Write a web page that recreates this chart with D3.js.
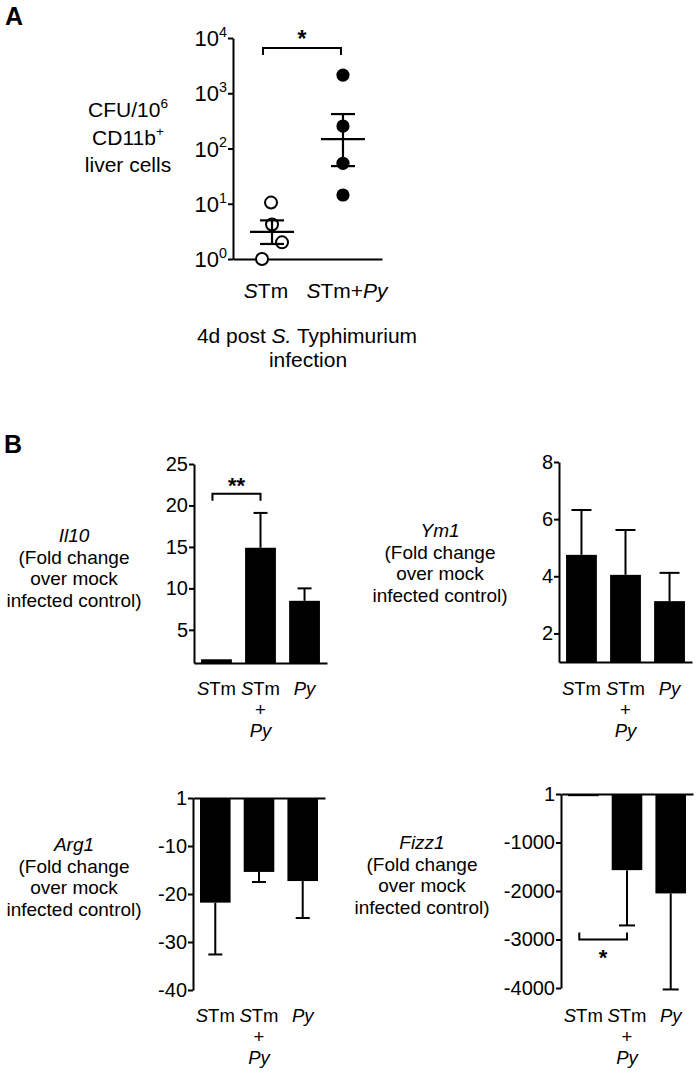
<!DOCTYPE html>
<html><head><meta charset="utf-8">
<script src="https://cdn.jsdelivr.net/npm/d3@7"></script>
<style>
body{margin:0;background:#fff}
svg{display:block}
text{font-family:"Liberation Sans",Arial,Helvetica,sans-serif;fill:#000}
</style>
</head><body>
<svg id="c" width="698" height="1077"></svg>
<script>
// ---------------- DATA ----------------
// Panel A: CFU per 10^6 CD11b+ liver cells (log scale)
const groupsA = ["STm", "STm+Py"];
const cfuSTm = [10.5, 4.2, 2.0, 1.0];
const cfuSTmPy = [2130, 255, 54, 14.4];
const meanA = [3.1, 148];
const semLowA = [1.87, 48];
const semHighA = [5.0, 420];
const logTicksA = [1, 10, 100, 1000, 10000];
const logTickExpA = ["0", "1", "2", "3", "4"];

// Panel B: fold change over mock infected control
const categoriesB = ["STm", "STm+Py", "Py"];
const il10Mean = [1.45, 14.9, 8.5];
const il10Err = [1.45, 19.1, 10.0];
const il10Ticks = [5, 10, 15, 20, 25];
const il10TickLabels = ["5", "10", "15", "20", "25"];

const ym1Mean = [4.75, 4.05, 3.13];
const ym1Err = [6.32, 5.62, 4.12];
const ym1Ticks = [2, 4, 6, 8];
const ym1TickLabels = ["2", "4", "6", "8"];

const arg1Mean = [-21.8, -15.4, -17.3];
const arg1Err = [-32.6, -17.5, -25.0];
const arg1Ticks = [0, -10, -20, -30, -40];
const arg1TickLabels = ["1", "-10", "-20", "-30", "-40"];

const fizz1Mean = [-45, -1570, -2050];
const fizz1Err = [-45, -2710, -4030];
const fizz1Ticks = [0, -1000, -2000, -3000, -4000];
const fizz1TickLabels = ["1", "-1000", "-2000", "-3000", "-4000"];

// ---------------- DRAW ----------------
const svg = d3.select("#c");
const FONT_A = 21, FONT_A_TICK = 22, FONT_B = 19, FONT_B_TICK = 20, FONT_B_CAT = 18.5;

function rich(g, x, y, parts, size, anchor) {
  const t = g.append("text").attr("x", x).attr("y", y)
    .attr("text-anchor", anchor || "middle").attr("font-size", size);
  parts.forEach(p => {
    const s = t.append("tspan").text(p.t);
    if (p.i) s.attr("font-style", "italic");
    if (p.sup) s.attr("font-size", size * 0.65).attr("dy", -size * 0.42);
  });
  return t;
}

// Panel letters
svg.append("text").attr("x", 5).attr("y", 25).attr("font-size", 25).attr("font-weight", "bold").text("A");
svg.append("text").attr("x", 4).attr("y", 453).attr("font-size", 25).attr("font-weight", "bold").text("B");

// ---------- Panel A ----------
(function () {
  const g = svg.append("g");
  const y = d3.scaleLog().domain([1, 10000]).range([259, 38]);
  const x = d3.scalePoint().domain(groupsA).range([233, 382]).padding(0.55);
  const ax0 = 233;

  // y axis
  const yAxis = d3.axisLeft(y).tickValues(logTicksA).tickFormat(() => "").tickSize(5).tickSizeOuter(0);
  const ya = g.append("g").attr("transform", `translate(${ax0},0)`).call(yAxis);
  ya.selectAll("path,line").attr("stroke", "#000").attr("stroke-width", 2);
  logTicksA.forEach((v, i) => {
    rich(g, ax0 - 6, y(v) + 8, [{ t: "10" }, { t: logTickExpA[i], sup: 1 }], FONT_A_TICK, "end");
  });
  // x axis
  const xAxis = d3.axisBottom(x).tickValues([]).tickSizeOuter(0);
  const xa = g.append("g").attr("transform", `translate(0,${y(1)})`).call(xAxis);
  xa.selectAll("path").attr("stroke", "#000").attr("stroke-width", 2);

  // points
  const jitter = [-1, 0, 10, -10];
  g.selectAll("circle.o").data(cfuSTm).join("circle")
    .attr("cx", (d, i) => x("STm") + jitter[i]).attr("cy", d => y(d)).attr("r", 6)
    .attr("fill", "#fff").attr("stroke", "#000").attr("stroke-width", 2);
  g.selectAll("circle.f").data(cfuSTmPy).join("circle")
    .attr("cx", x("STm+Py")).attr("cy", d => y(d)).attr("r", 6.6).attr("fill", "#000");

  // mean & SEM
  groupsA.forEach((grp, i) => {
    const cx = x(grp);
    const lines = [
      [cx - 22, y(meanA[i]), cx + 22, y(meanA[i])],
      [cx, y(semLowA[i]), cx, y(semHighA[i])],
      [cx - 12, y(semLowA[i]), cx + 12, y(semLowA[i])],
      [cx - 12, y(semHighA[i]), cx + 12, y(semHighA[i])]
    ];
    lines.forEach(l => g.append("line").attr("x1", l[0]).attr("y1", l[1]).attr("x2", l[2]).attr("y2", l[3])
      .attr("stroke", "#000").attr("stroke-width", 2.2));
  });

  // significance bracket
  const bx1 = x("STm") - 9, bx2 = x("STm+Py") - 2, by = y(10000) + 10;
  g.append("path").attr("d", `M${bx1},${by + 7}V${by}H${bx2}V${by + 7}`)
    .attr("fill", "none").attr("stroke", "#000").attr("stroke-width", 2);
  g.append("text").attr("x", (bx1 + bx2) / 2).attr("y", by - 1).attr("text-anchor", "middle")
    .attr("font-size", 23).attr("font-weight", "bold").text("*");

  // x labels
  rich(g, x("STm") - 6, 298, [{ t: "S", i: 1 }, { t: "Tm" }], FONT_A);
  rich(g, x("STm+Py") + 4, 298, [{ t: "S", i: 1 }, { t: "Tm+" }, { t: "Py", i: 1 }], FONT_A);
  rich(g, 307, 343, [{ t: "4d post " }, { t: "S.", i: 1 }, { t: " Typhimurium" }], FONT_A);
  rich(g, 308, 367, [{ t: "infection" }], FONT_A);

  // y title
  rich(g, 128, 117, [{ t: "CFU/10" }, { t: "6", sup: 1 }], FONT_A);
  rich(g, 128, 145, [{ t: "CD11b" }, { t: "+", sup: 1 }], FONT_A);
  rich(g, 128, 172, [{ t: "liver cells" }], FONT_A);
})();

// ---------- Panel B ----------
const catLabels = {
  "STm": [[{ t: "S", i: 1 }, { t: "Tm" }]],
  "STm+Py": [[{ t: "S", i: 1 }, { t: "Tm" }], [{ t: "+" }], [{ t: "Py", i: 1 }]],
  "Py": [[{ t: "Py", i: 1 }]]
};

const charts = [
  { gene: "Il10", mean: il10Mean, err: il10Err, base: 1, end: 25, ticks: il10Ticks, tickLabels: il10TickLabels,
    x0: 194, x1: 327, baseY: 663, endY: 464, labelY: 695, titleX: 74, titleY: 542, cap: 7,
    sig: { from: 0, to: 1, v: 21.4, up: false, text: "**" } },
  { gene: "Ym1", mean: ym1Mean, err: ym1Err, base: 1, end: 8, ticks: ym1Ticks, tickLabels: ym1TickLabels,
    x0: 559, x1: 692, baseY: 662, endY: 462, labelY: 695, titleX: 440, titleY: 537, cap: 10 },
  { gene: "Arg1", mean: arg1Mean, err: arg1Err, base: 0, end: -40, ticks: arg1Ticks, tickLabels: arg1TickLabels,
    x0: 193, x1: 325, baseY: 798, endY: 990, labelY: 1022, titleX: 74, titleY: 851, cap: 7 },
  { gene: "Fizz1", mean: fizz1Mean, err: fizz1Err, base: 0, end: -4000, ticks: fizz1Ticks, tickLabels: fizz1TickLabels,
    x0: 561, x1: 693, baseY: 794, endY: 988, labelY: 1022, titleX: 422, titleY: 849, cap: 8,
    sig: { from: 0, to: 1, v: -3000, up: true, text: "*" } }
];

charts.forEach(c => {
  const g = svg.append("g");
  const y = d3.scaleLinear().domain([c.base, c.end]).range([c.baseY, c.endY]);
  const x = d3.scaleBand().domain(categoriesB).range([c.x0, c.x1]).paddingInner(0.3).paddingOuter(0.16);
  const bw = x.bandwidth();

  // bars
  g.selectAll("rect").data(c.mean).join("rect")
    .attr("x", (d, i) => x(categoriesB[i]))
    .attr("y", d => Math.min(y(c.base), y(d)))
    .attr("width", bw)
    .attr("height", d => Math.abs(y(d) - y(c.base)))
    .attr("fill", "#000");

  // error bars
  c.err.forEach((e, i) => {
    if (e === c.mean[i]) return;
    const cx = x(categoriesB[i]) + bw / 2;
    g.append("line").attr("x1", cx).attr("x2", cx).attr("y1", y(c.mean[i])).attr("y2", y(e))
      .attr("stroke", "#000").attr("stroke-width", 2);
    g.append("line").attr("x1", cx - c.cap).attr("x2", cx + c.cap).attr("y1", y(e)).attr("y2", y(e))
      .attr("stroke", "#000").attr("stroke-width", 2);
  });

  // y axis
  const yAxis = d3.axisLeft(y).tickValues(c.ticks).tickFormat((d, i) => c.tickLabels[i]).tickSize(5).tickSizeOuter(0);
  const ya = g.append("g").attr("transform", `translate(${c.x0},0)`).call(yAxis);
  ya.attr("font-family", null).attr("font-size", null);
  ya.selectAll("path,line").attr("stroke", "#000").attr("stroke-width", 2);
  ya.selectAll("text").attr("font-size", FONT_B_TICK).attr("fill", "#000").attr("x", -6);

  // x axis (no ticks)
  const xAxis = d3.axisBottom(x).tickValues([]).tickSizeOuter(0);
  const xa = g.append("g").attr("transform", `translate(0,${y(c.base)})`).call(xAxis);
  xa.selectAll("path").attr("stroke", "#000").attr("stroke-width", 2);

  // category labels
  categoriesB.forEach(cat => {
    const cx = x(cat) + bw / 2;
    catLabels[cat].forEach((line, li) => rich(g, cx, c.labelY + li * 21, line, FONT_B_CAT));
  });

  // y title
  rich(g, c.titleX, c.titleY, [{ t: c.gene, i: 1 }], FONT_B);
  ["(Fold change", "over mock", "infected control)"].forEach((s, i) =>
    rich(g, c.titleX, c.titleY + 21.5 * (i + 1), [{ t: s }], FONT_B));

  // significance
  if (c.sig) {
    const s = c.sig;
    const bx1 = x(categoriesB[s.from]) + bw / 2 - 4, bx2 = x(categoriesB[s.to]) + bw / 2;
    const by = y(s.v);
    const dir = s.up ? -7 : 7;
    g.append("path").attr("d", `M${bx1},${by + dir}V${by}H${bx2}V${by + dir}`)
      .attr("fill", "none").attr("stroke", "#000").attr("stroke-width", 2);
    g.append("text").attr("x", (bx1 + bx2) / 2).attr("y", s.up ? by + 25 : by - 1)
      .attr("text-anchor", "middle").attr("font-size", 22).attr("font-weight", "bold").text(s.text);
  }
});
</script>
</body></html>
